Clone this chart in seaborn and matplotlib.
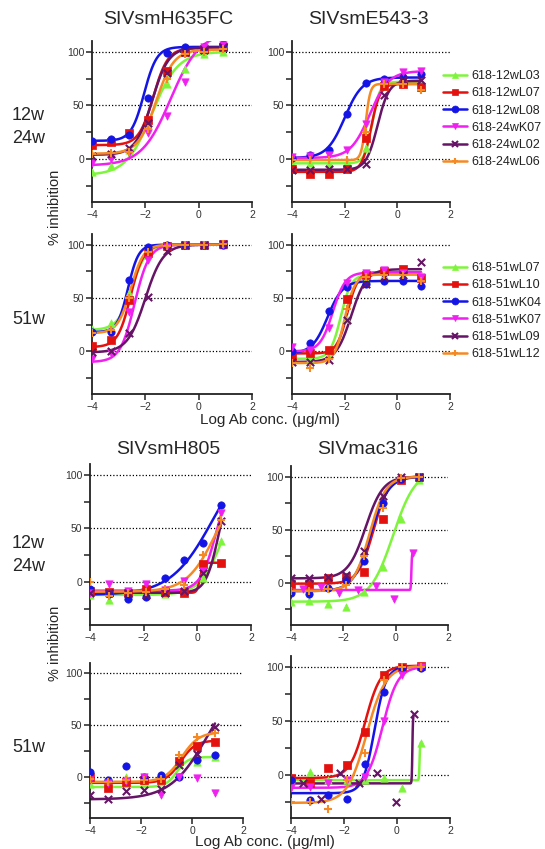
import numpy as np
import matplotlib
matplotlib.use("Agg")
import matplotlib.pyplot as plt
import seaborn as sns
from matplotlib.lines import Line2D
from matplotlib.ticker import MultipleLocator, FixedLocator

# log10 antibody concentration of the 5-fold dilution series
LOG_CONC = [-4.0, -3.3, -2.6, -1.9, -1.2, -0.5, 0.2, 0.9]
# one serum per late panel was run on a series shifted down
LOG_CONC_ALT = [-4.25, -3.55, -2.85, -2.15, -1.45, -0.75, -0.05, 0.65]

SERA_EARLY = ["618-12wL03", "618-12wL07", "618-12wL08",
              "618-24wK07", "618-24wL02", "618-24wL06"]
SERA_LATE = ["618-51wL07", "618-51wL10", "618-51wK04",
             "618-51wK07", "618-51wL09", "618-51wL12"]
COLORS = ["#7ef53c", "#e3120f", "#1414e6", "#f020f0", "#661466", "#f58a25"]
MARKERS = ["^", "s", "o", "v", "x", "+"]

# % inhibition, rows in legend order
H635_EARLY = [[-12, -6, 8, 32, 70, 84, 98, 100],
              [13, 16, 24, 36, 82, 100, 103, 104],
              [17, 19, 22, 57, 99, 104, 104, 107],
              [-4, 0, 6, 24, 40, 72, 104, 106],
              [3, 5, 10, 34, 80, 100, 102, 104],
              [5, 6, 7, 28, 75, 98, 100, 103]]
# 4PL fit per serum: bottom, top, logIC50, hill
H635_EARLY_FIT = [(-15, 100, -1.75, 0.9), (13, 103.5, -1.7, 1.6),
                  (17, 104.5, -2.05, 1.8), (-6, 118, -1.05, 0.8),
                  (4, 104, -1.75, 1.4), (5, 102, -1.6, 1.3)]

E543_EARLY = [[-4, -4, -4, -3, 10, 68, 72, 72],
              [-9, -14, -14, -9, 20, 68, 70, 67],
              [1, 4, 8, 42, 71, 75, 76, 79],
              [2, 3, 4, 8, 33, 72, 81, 82],
              [-10, -10, -9, -9, -5, 60, 74, 74],
              [-1, -1, -1, -1, 25, 70, 70, 64]]
E543_EARLY_FIT = [(-4, 72, -0.95, 3), (-12, 70, -1.0, 2.5),
                  (1, 76, -2.0, 1.3), (1, 82, -1.05, 1.2),
                  (-10, 73, -0.75, 2), (-1, 70, -1.2, 5)]

H635_LATE = [[21, 27, 55, 90, 100, 100, 100, 100],
             [5, 11, 48, 92, 99, 100, 100, 101],
             [18, 18, 67, 98, 100, 100, 100, 100],
             [-7, -2, 37, 86, 98, 100, 100, 100],
             [-1, 0, 17, 51, 94, 100, 100, 101],
             [17, 20, 50, 93, 99, 100, 100, 101]]
H635_LATE_FIT = [(20, 100, -2.5, 1.6), (4, 100, -2.55, 1.8),
                 (18, 100, -2.65, 2.2), (-10, 100, -2.4, 1.6),
                 (-1, 100, -2.0, 1.3), (17, 100, -2.55, 1.8)]

E543_LATE = [[-7, -6, -3, 30, 68, 72, 72, 71],
             [-5, -2, 1, 49, 72, 75, 77, 69],
             [0, 8, 38, 60, 63, 66, 66, 61],
             [4, 1, 22, 64, 73, 76, 73, 70],
             [-10, -10, -8, 29, 63, 70, 72, 84],
             [-11, -16, -7, 40, 70, 72, 72, 66]]
E543_LATE_FIT = [(-7, 72, -2.15, 2.2), (-2, 74, -1.9, 2.2),
                 (-2, 66, -2.65, 1.5), (0, 74, -2.45, 1.8),
                 (-10, 77, -1.75, 1.5), (-11, 72, -2.0, 2.2)]

H805_EARLY = [[-12, -17, -13, -12, -11, -9, 4, 38],
              [-8, -9, -10, -6, -9, -10, 17, 18],
              [-6, -11, -16, -14, 4, 21, 36, 72],
              [-10, -2, -8, -2, -7, 1, 10, 64],
              [-10, -10, -10, -12, -10, -8, 8, 57],
              [0, -13, -10, -9, -6, -3, 25, 58]]
H805_EARLY_FIT = [(-12, 100, 1.0, 1.0), (-10, 18, 0.1, 8),
                  (-12, 130, 0.6, 0.55), (-8, 100, 0.7, 1.5),
                  (-10, 100, 0.8, 1.8), (-9, 100, 0.7, 0.8)]

MAC316_EARLY = [[-18, -17, -20, -23, -9, 15, 60, 97],
                [-1, -1, 4, 5, 10, 60, 97, 100],
                [-10, -11, -5, 2, 20, 75, 98, 100],
                [-5, -6, -4, -10, -7, -3, -15, 28],
                [4, 4, 5, 7, 30, 82, 100, 100],
                [-8, -8, -6, -2, 25, 70, 99, 100]]
MAC316_EARLY_FIT = [(-18, 107, -0.1, 1.0), (-1, 100, -0.85, 1.5),
                    (-8, 100, -0.95, 1.3), (-7, 28, 0.6, 40),
                    (4, 100, -1.15, 1.3), (-8, 100, -1.0, 1.4)]
MAC316_EARLY_ALT = [False, False, False, True, False, False]

H805_LATE = [[-7, -5, 0, -4, -2, 12, 14, 19],
             [0, -11, -5, -3, -3, 15, 30, 34],
             [5, -3, 10, 0, 2, 0, 16, 21],
             [-3, -6, -4, 0, -18, 0, -1, -16],
             [-18, -22, -14, -13, -12, 11, 22, 48],
             [-2, -5, -3, -3, -2, 21, 38, 42]]
H805_LATE_FIT = [(-10, 19, -0.6, 2), (-6, 35, -0.45, 1.5), None, None,
                 (-22, 100, 0.6, 0.6), (-5, 43, -0.4, 1.3)]

MAC316_LATE = [[-4, 3, -5, -5, -5, -3, -12, 29],
               [-3, -8, 6, 9, 40, 92, 100, 101],
               [-5, -23, -19, -22, 10, 77, 99, 99],
               [-12, -11, -8, -5, -2, 50, 92, 100],
               [-6, -8, -22, 2, -8, 2, -25, 56],
               [-25, -25, -32, -5, 20, 88, 100, 100]]
MAC316_LATE_FIT = [(-5, 30, 0.85, 40), (-3, 101, -1.2, 1.5),
                   (-17, 100, -0.85, 2), (-12, 100, -0.55, 1.5),
                   (-8, 56, 0.58, 40), (-26, 101, -1.15, 1.2)]
MAC316_LATE_ALT = [False, False, False, False, True, False]

NO_ALT = [False] * 6


def four_pl(x, bottom, top, logic50, hill):
    return bottom + (top - bottom) / (1 + 10 ** ((logic50 - x) * hill))


sns.set_theme(style="ticks")
plt.rcParams["font.family"] = ["Liberation Sans", "DejaVu Sans"]

W, H = 545, 849
fig = plt.figure(figsize=(W / 100, H / 100), dpi=100)

# panel rectangles in pixels: left, top, width, height
panels = [
    ((92, 41, 160, 161), H635_EARLY, H635_EARLY_FIT, NO_ALT),
    ((292, 41, 158, 161), E543_EARLY, E543_EARLY_FIT, NO_ALT),
    ((92, 234, 160, 160), H635_LATE, H635_LATE_FIT, NO_ALT),
    ((292, 234, 158, 160), E543_LATE, E543_LATE_FIT, NO_ALT),
    ((90, 464, 161, 161), H805_EARLY, H805_EARLY_FIT, NO_ALT),
    ((291, 466, 157, 159), MAC316_EARLY, MAC316_EARLY_FIT, MAC316_EARLY_ALT),
    ((90, 663, 153, 155), H805_LATE, H805_LATE_FIT, NO_ALT),
    ((291, 656, 159, 162), MAC316_LATE, MAC316_LATE_FIT, MAC316_LATE_ALT),
]

for (l, t, w, h), vals, fits, alt in panels:
    ax = fig.add_axes([l / W, 1 - (t + h) / H, w / W, h / H])
    for yv in (0, 50, 100):
        ax.axhline(yv, color="black", lw=0.9, ls=(0, (1, 1.6)), zorder=0)
    for i in range(6):
        xs = LOG_CONC_ALT if alt[i] else LOG_CONC
        if fits[i] is not None:
            xfit = np.linspace(-4, xs[-1], 400)
            sns.lineplot(x=xfit, y=four_pl(xfit, *fits[i]), color=COLORS[i],
                         lw=1.8, ax=ax, estimator=None, sort=False)
        lw = 1.5 if MARKERS[i] in ("x", "+") else 0.5
        sns.scatterplot(x=xs, y=vals[i], color=COLORS[i], marker=MARKERS[i],
                        s=28, edgecolor=COLORS[i], linewidth=lw, ax=ax,
                        zorder=3)
    ax.set_xlim(-4, 2)
    ax.set_ylim(-40, 110)
    ax.xaxis.set_major_locator(MultipleLocator(2))
    ax.yaxis.set_major_locator(FixedLocator([0, 50, 100]))
    ax.yaxis.set_minor_locator(FixedLocator([-25, 25, 75]))
    ax.tick_params(axis="both", which="both", length=4, width=1.1,
                   labelsize=7.5, labelcolor="#333333", color="#222222", pad=1.5)
    sns.despine(ax=ax)
    for sp in ("left", "bottom"):
        ax.spines[sp].set_linewidth(1.3)
        ax.spines[sp].set_color("#222222")
    ax.set_xlabel("")
    ax.set_ylabel("")


def ftext(x, y, s, **kw):
    fig.text(x / W, 1 - y / H, s, **kw)


ftext(168, 20, "SIVsmH635FC", fontsize=14, ha="center", va="center")
ftext(368, 20, "SIVsmE543-3", fontsize=14, ha="center", va="center")
ftext(168, 450, "SIVsmH805", fontsize=14, ha="center", va="center")
ftext(368, 450, "SIVmac316", fontsize=14, ha="center", va="center")

ftext(12, 127, "12w\n24w", fontsize=13, ha="left", va="center", linespacing=1.4)
ftext(12, 320, "51w", fontsize=13, ha="left", va="center")
ftext(12, 555, "12w\n24w", fontsize=13, ha="left", va="center", linespacing=1.4)
ftext(12, 748, "51w", fontsize=13, ha="left", va="center")

ftext(55, 207, "% inhibition", fontsize=10.5, rotation=90, ha="center", va="center")
ftext(55, 643, "% inhibition", fontsize=10.5, rotation=90, ha="center", va="center")
ftext(270, 420, "Log Ab conc. (\u03bcg/ml)", fontsize=11, ha="center", va="center")
ftext(265, 842, "Log Ab conc. (\u03bcg/ml)", fontsize=11, ha="center", va="center")


def make_handles():
    return [Line2D([0], [0], color=c, marker=m, lw=1.8, markersize=5,
                   markeredgewidth=1.5 if m in ("x", "+") else 0.5,
                   markeredgecolor=c)
            for c, m in zip(COLORS, MARKERS)]


for labels, top in ((SERA_EARLY, 70), (SERA_LATE, 262)):
    leg = fig.legend(make_handles(), labels, loc="upper left",
                     bbox_to_anchor=(443 / W, 1 - top / H), frameon=False,
                     fontsize=9, handlelength=1.9, handletextpad=0.4,
                     labelspacing=0.42, borderpad=0, borderaxespad=0)
    for txt in leg.get_texts():
        txt.set_color("#222222")

fig.savefig("out.png", dpi=100)
